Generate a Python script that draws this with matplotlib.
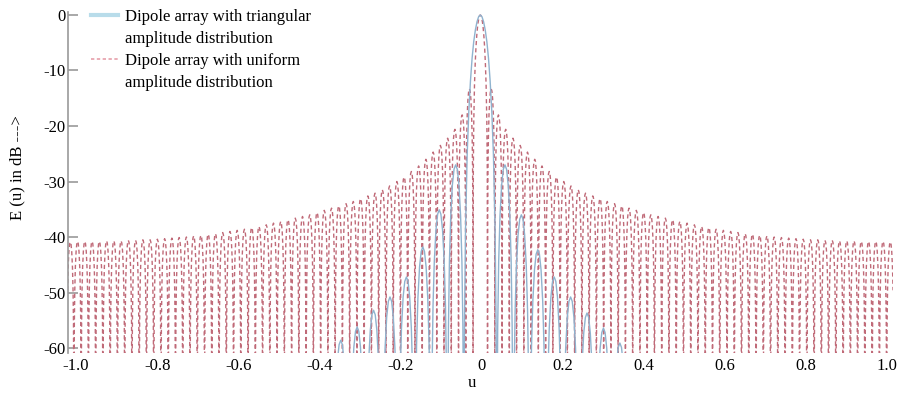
import numpy as np
import matplotlib.pyplot as plt
from matplotlib.lines import Line2D

plt.rcParams["font.family"] = ["Liberation Serif", "DejaVu Serif"]
plt.rcParams["font.size"] = 12

# beam position and null spacing (u units)
beam_u = -0.003
uni_null_step = 0.0179
tri_null_step = 0.0405

# uniform pattern: sidelobe peaks in dB, lobe 1 .. 56 away from the beam
uni_side_db = [
    -13.3, -18.0, -20.6, -22.2, -23.5, -24.7, -26.0, -27.2, -28.2, -29.2,
    -30.0, -30.8, -31.5, -32.1, -32.6, -33.1, -33.6, -34.0, -34.4, -34.8,
    -35.2, -35.6, -36.0, -36.3, -36.6, -36.9, -37.2, -37.5, -37.8, -38.1,
    -38.3, -38.6, -38.8, -39.0, -39.2, -39.4, -39.5, -39.7, -39.8, -40.0,
    -40.1, -40.2, -40.3, -40.4, -40.5, -40.5, -40.6, -40.6, -40.7, -40.7,
    -40.7, -40.8, -40.8, -40.8, -40.8, -40.9,
]

# triangular pattern: sidelobe peaks in dB, lobe 1 .. 10
tri_left_db = [-27.0, -35.1, -41.8, -47.2, -50.8, -53.2, -56.2, -58.6, -61.5, -64.0]
tri_right_db = [-27.0, -36.0, -42.3, -47.2, -50.8, -53.7, -56.4, -59.1, -62.0, -64.5]

# shape of one sidelobe between two nulls (fraction of spacing, dB below peak)
lobe_frac = [0.02, 0.06, 0.12, 0.2, 0.3, 0.4, 0.5, 0.6, 0.7, 0.8, 0.88, 0.94, 0.98]
lobe_rel_db = [-24.0, -14.6, -8.7, -4.6, -1.8, -0.4, 0.0, -0.4, -1.8, -4.6, -8.7, -14.6, -24.0]
tri_lobe_rel_db = [-48.0, -29.2, -17.4, -9.2, -3.6, -0.8, 0.0, -0.8, -3.6, -9.2, -17.4, -29.2, -48.0]

# main beam shape (offset in null spacings, dB)
main_frac = [-0.96, -0.9, -0.8, -0.7, -0.6, -0.5, -0.4, -0.3, -0.2, -0.1, 0.0,
             0.1, 0.2, 0.3, 0.4, 0.5, 0.6, 0.7, 0.8, 0.9, 0.96]
main_uni_db = [-27.6, -19.3, -12.6, -8.7, -5.9, -3.9, -2.4, -1.3, -0.6, -0.1, 0.0,
               -0.1, -0.6, -1.3, -2.4, -3.9, -5.9, -8.7, -12.6, -19.3, -27.6]
main_tri_db = [-55.2, -38.6, -25.2, -17.4, -11.9, -7.8, -4.8, -2.7, -1.2, -0.3, 0.0,
               -0.3, -1.2, -2.7, -4.8, -7.8, -11.9, -17.4, -25.2, -38.6, -55.2]
null_db = -80.0

xticks = [-1.0, -0.8, -0.6, -0.4, -0.2, 0.0, 0.2, 0.4, 0.6, 0.8, 1.0]
xtick_labels = ["-1.0", "-0.8", "-0.6", "-0.4", "-0.2", "0", "0.2", "0.4", "0.6", "0.8", "1.0"]
yticks = [0, -10, -20, -30, -40, -50, -60]
ytick_labels = ["0", "-10", "-20", "-30", "-40", "-50", "-60"]


def build(step, left_db, right_db, main_db, rel_db):
    u, db = [], []
    for k in range(len(left_db), 0, -1):
        start = beam_u - (k + 1) * step
        u.append(start)
        db.append(null_db)
        u += [start + f * step for f in lobe_frac]
        db += [left_db[k - 1] + r for r in rel_db]
    u.append(beam_u - step)
    db.append(null_db)
    u += [beam_u + f * step for f in main_frac]
    db += main_db
    for k in range(1, len(right_db) + 1):
        start = beam_u + k * step
        u.append(start)
        db.append(null_db)
        u += [start + f * step for f in lobe_frac]
        db += [right_db[k - 1] + r for r in rel_db]
    u.append(beam_u + (len(right_db) + 1) * step)
    db.append(null_db)
    return np.array(u), np.array(db)


u_uni, db_uni = build(uni_null_step, uni_side_db, uni_side_db, main_uni_db, lobe_rel_db)
u_tri, db_tri = build(tri_null_step, tri_left_db, tri_right_db, main_tri_db, tri_lobe_rel_db)

fig = plt.figure(figsize=(9.01, 3.98), dpi=100)
ax = fig.add_axes([68 / 901, 1 - 353 / 398, 825 / 901, 341 / 398])

ax.plot(u_uni, db_uni, color="#c06a78", lw=1.0, linestyle=(0, (3, 2.2)), zorder=2)
ax.plot(u_tri, db_tri, color="#8fb3cf", lw=1.0, zorder=3)

ax.set_xlim(-1.02, 1.015)
ax.set_ylim(-60.9, 0.54)
ax.set_xticks(xticks)
ax.set_xticklabels(xtick_labels)
ax.set_yticks(yticks)
ax.set_yticklabels(ytick_labels)

for side in ["top", "right", "bottom"]:
    ax.spines[side].set_visible(False)
ax.spines["left"].set_color("#999999")
ax.spines["left"].set_linewidth(1.2)
ax.tick_params(axis="x", length=0, pad=3.5)
ax.tick_params(axis="y", direction="in", length=7, width=1.2, color="#999999", pad=2)

fig.text(17 / 901, 1 - 168 / 398, "E (u) in dB --->", rotation=90, ha="center", va="center")
fig.text(472 / 901, 1 - 383 / 398, "u", ha="center", va="center")

handles = [
    Line2D([0], [0], color="#b8dcea", lw=3),
    Line2D([0], [0], color="none"),
    Line2D([0], [0], color="#e6a0aa", lw=1.2, linestyle=(0, (2, 1.5))),
    Line2D([0], [0], color="none"),
]
labels = [
    "Dipole array with triangular",
    "amplitude distribution",
    "Dipole array with uniform",
    "amplitude distribution",
]
ax.legend(handles, labels, loc="upper left", bbox_to_anchor=(88 / 901, 1 - 6 / 398),
          bbox_transform=fig.transFigure, frameon=False, borderpad=0.2,
          handlelength=1.6, handletextpad=0.4, labelspacing=0.36, borderaxespad=0)

fig.savefig("out.png", dpi=100)
